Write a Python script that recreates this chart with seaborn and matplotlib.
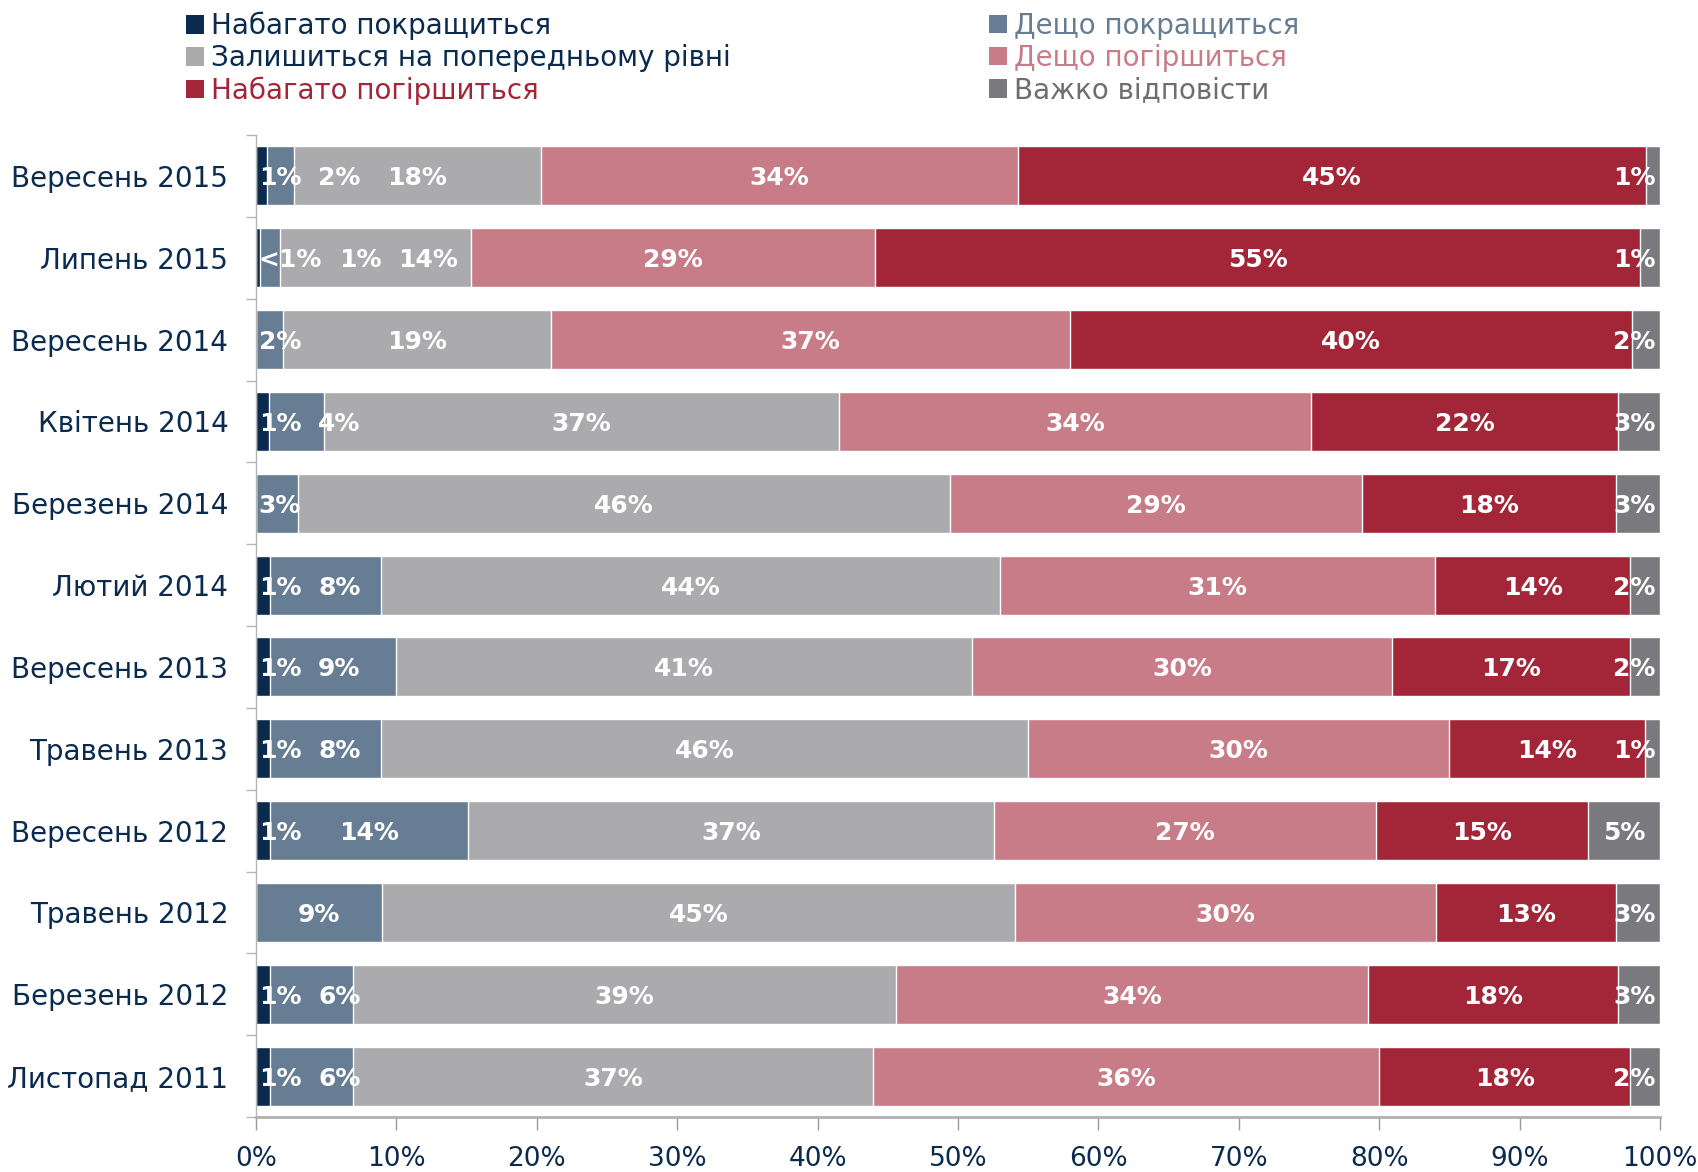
import pandas as pd
import seaborn as sns
import matplotlib.pyplot as plt
from matplotlib.patches import Patch
from matplotlib.ticker import FixedLocator

periods = ["Вересень 2015", "Липень 2015", "Вересень 2014", "Квітень 2014",
           "Березень 2014", "Лютий 2014", "Вересень 2013", "Травень 2013",
           "Вересень 2012", "Травень 2012", "Березень 2012", "Листопад 2011"]

series_names = ["Набагато покращиться", "Дещо покращиться",
                "Залишиться на попередньому рівні", "Дещо погіршиться",
                "Набагато погіршиться", "Важко відповісти"]

# segment widths (%)
much_better = [0.8, 0.3, 0.0, 0.9, 0.0, 1.0, 1.0, 1.0, 1.0, 0.0, 1.0, 1.0]
somewhat_better = [1.9, 1.4, 1.9, 3.9, 3.0, 7.9, 9.0, 7.9, 14.1, 9.0, 5.9, 5.9]
same = [17.6, 13.6, 19.1, 36.7, 46.4, 44.1, 41.0, 46.1, 37.4, 45.1, 38.7, 37.0]
somewhat_worse = [34.0, 28.8, 37.0, 33.6, 29.3, 31.0, 29.9, 30.0, 27.2, 30.0, 33.6, 36.0]
much_worse = [44.8, 54.6, 40.0, 21.8, 18.1, 13.9, 17.0, 13.9, 15.1, 12.9, 17.8, 17.9]
hard_to_say = [1.0, 1.4, 2.0, 3.0, 3.1, 2.1, 2.1, 1.1, 5.1, 3.1, 3.0, 2.1]

# printed data labels
lbl_much_better = ["1%", "<1%", "", "1%", "", "1%", "1%", "1%", "1%", "", "1%", "1%"]
lbl_somewhat_better = ["2%", "1%", "2%", "4%", "3%", "8%", "9%", "8%", "14%", "9%", "6%", "6%"]
lbl_same = ["18%", "14%", "19%", "37%", "46%", "44%", "41%", "46%", "37%", "45%", "39%", "37%"]
lbl_somewhat_worse = ["34%", "29%", "37%", "34%", "29%", "31%", "30%", "30%", "27%", "30%", "34%", "36%"]
lbl_much_worse = ["45%", "55%", "40%", "22%", "18%", "14%", "17%", "14%", "15%", "13%", "18%", "18%"]
lbl_hard_to_say = ["1%", "1%", "2%", "3%", "3%", "2%", "2%", "1%", "5%", "3%", "3%", "2%"]

colors = ["#0A2A4E", "#667D94", "#ABABAD", "#C87C87", "#A32638", "#7A7A7E"]
legend_text_colors = ["#0A2A4E", "#667D94", "#0A2A4E", "#C87C87", "#A32638", "#6E6E72"]
NAVY = "#0A2A4E"

values = [much_better, somewhat_better, same, somewhat_worse, much_worse, hard_to_say]
labels = [lbl_much_better, lbl_somewhat_better, lbl_same, lbl_somewhat_worse,
          lbl_much_worse, lbl_hard_to_say]

df = pd.DataFrame({name: vals for name, vals in zip(series_names, values)}, index=periods)
df = df.div(df.sum(axis=1), axis=0) * 100
cum = df.cumsum(axis=1)

sns.set_style("white")
plt.rcParams['font.family'] = ['DejaVu Sans']

fig = plt.figure(figsize=(16.98, 11.72), dpi=100)
ax = fig.add_axes([0.1508, 0.0469, 0.9776 - 0.1508, 0.8848 - 0.0469])

# stacked bars: draw cumulative totals from the widest down
for name, col in reversed(list(zip(series_names, colors))):
    part = pd.DataFrame({"period": periods, "value": cum[name].values})
    sns.barplot(data=part, x="value", y="period", order=periods, color=col,
                width=0.72, errorbar=None, orient="h", ax=ax, saturation=1)

ax.set_xlim(0, 100)
ax.set_ylim(len(periods) - 0.5, -0.5)
ax.set_xlabel("")
ax.set_ylabel("")

ax.set_xticks(range(0, 101, 10))
ax.set_xticklabels([f"{v}%" for v in range(0, 101, 10)])
ax.tick_params(axis="x", which="major", length=9, width=1, color="#9a9a9a",
               direction="out", labelsize=19, labelcolor=NAVY, pad=12, bottom=True)
ax.tick_params(axis="y", which="major", length=0, labelsize=20, labelcolor=NAVY, pad=20)
ax.yaxis.set_minor_locator(FixedLocator([i - 0.5 for i in range(len(periods) + 1)]))
ax.tick_params(axis="y", which="minor", length=7, width=1, color="#b5b5b5",
               direction="out", left=True)

for side in ["top", "right"]:
    ax.spines[side].set_visible(False)
ax.spines["left"].set_color("#b5b5b5")
ax.spines["left"].set_linewidth(1)
ax.spines["bottom"].set_color("#b0b0b0")
ax.spines["bottom"].set_linewidth(2)

# data labels, nudged apart where segments are too narrow
fig.canvas.draw()
renderer = fig.canvas.get_renderer()
inv = ax.transData.inverted()
gap = 1.2
for i in range(len(periods)):
    left = 0.0
    prev_right = None
    for j, name in enumerate(series_names):
        v = df[name].iloc[i]
        lab = labels[j][i]
        center = left + v / 2
        left += v
        if not lab:
            continue
        t = ax.text(center, i + 0.03, lab, ha="center", va="center", color="white",
                    fontsize=18, fontweight="bold")
        bb = t.get_window_extent(renderer)
        x0 = inv.transform((bb.x0, 0))[0]
        x1 = inv.transform((bb.x1, 0))[0]
        w = x1 - x0
        x = center
        if prev_right is None and v < w:
            x = 0.2 + w / 2
        if prev_right is not None:
            x = max(x, prev_right + gap + w / 2)
        if j == len(series_names) - 1:
            x = min(x, 99.7 - w / 2)
        t.set_x(x)
        prev_right = x + w / 2

handles = [Patch(facecolor=c, edgecolor="none") for c in colors]
for idx, xpos in [([0, 2, 4], 0.1095), ([1, 3, 5], 0.5824)]:
    leg = fig.legend([handles[k] for k in idx], [series_names[k] for k in idx],
                     loc="upper left", bbox_to_anchor=(xpos, 0.99), frameon=False,
                     fontsize=20, handlelength=0.65, handleheight=0.65,
                     handletextpad=0.25, labelspacing=0.15, borderpad=0,
                     borderaxespad=0)
    for txt, k in zip(leg.get_texts(), idx):
        txt.set_color(legend_text_colors[k])

fig.savefig("out.png", dpi=100)
